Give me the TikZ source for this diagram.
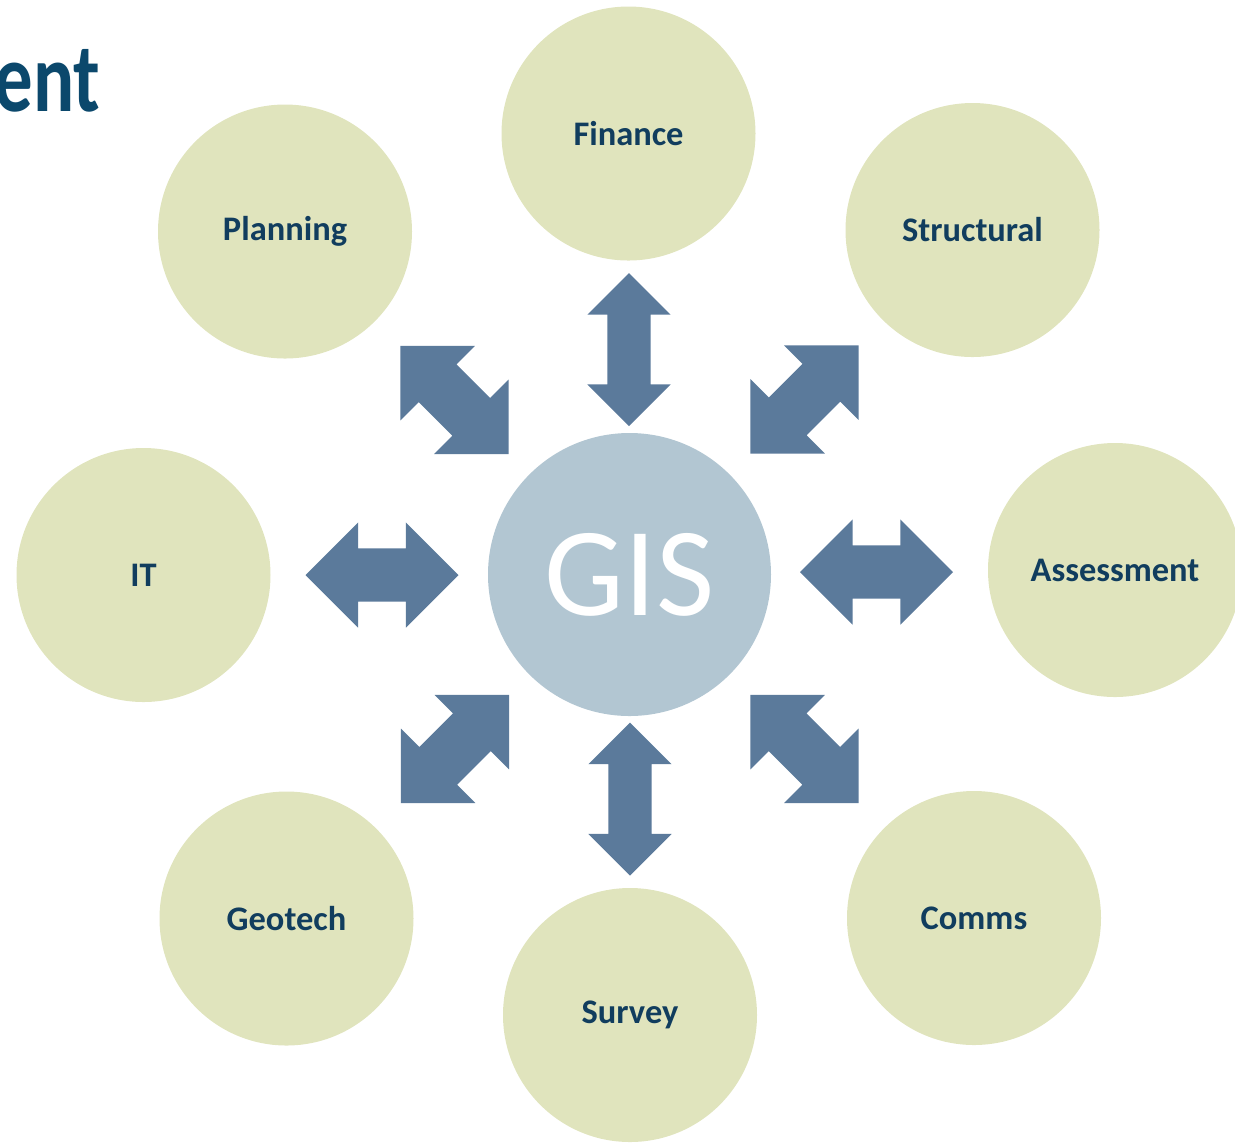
\documentclass[tikz,border=0pt]{standalone}
\usepackage{fontspec}
\setmainfont{Carlito}
\usepackage{tkz-euclide}
\usepackage{tikz}
\usetikzlibrary{shapes.arrows}

\definecolor{sage}{RGB}{224,228,189}
\definecolor{mist}{RGB}{178,198,210}
\definecolor{steel}{RGB}{91,122,155}
\definecolor{navy}{RGB}{17,61,94}
\definecolor{deepblue}{RGB}{11,72,108}

\begin{document}
\begin{tikzpicture}[
    dept/.style={circle, fill=sage, minimum size=2.54cm, inner sep=0pt,
        font=\bfseries\fontsize{9.8}{12}\selectfont, text=navy},
    twoway/.style={double arrow, fill=steel, inner sep=0pt, inner ysep=.26cm,
        double arrow head extend=.26cm, minimum height=1.53cm, minimum width=1.04cm},
    upway/.style={twoway, inner ysep=.21cm, double arrow head extend=.2cm,
        minimum width=.82cm, rotate=90}]
    \useasboundingbox (0,0) rectangle (12.35,-11.42);
    \tkzDefPoints{6.295/-5.745/O,6.285/-1.335/Fi,2.85/-2.315/Pl,9.725/-2.30/St,
        1.435/-5.75/It,11.15/-5.70/As,2.865/-9.185/Ge,6.30/-10.15/Su,9.74/-9.18/Co}
    \tkzDefPoints{6.29/-3.495/aN,8.045/-3.995/aNE,8.765/-5.72/aE,8.045/-7.49/aSE,
        6.30/-7.99/aS,4.55/-7.49/aSW,3.82/-5.75/aW,4.545/-4.00/aNW}
    % title (cut at the left)
    \node[anchor=base east, xscale=.78, font=\bfseries\fontsize{28}{34}\selectfont,
        text=deepblue] (title) at (1.10,-1.11) {ent};
    % hub
    \node[circle, fill=mist, minimum size=2.83cm, inner sep=0pt, text=white,
        font=\fontsize{36}{40}\selectfont] (gis) at (O) {GIS};
    % departments
    \node[dept] (fin) at (Fi) {Finance};
    \node[dept] (plan) at (Pl) {Planning};
    \node[dept] (struct) at (St) {Structural};
    \node[dept] (it) at (It) {IT};
    \node[dept] (assess) at (As) {Assessment};
    \node[dept] (geo) at (Ge) {Geotech};
    \node[dept] (surv) at (Su) {Survey};
    \node[dept] (comms) at (Co) {Comms};
    % links
    \node[upway] (lfin) at (aN) {};
    \node[upway] (lsurv) at (aS) {};
    \node[twoway] (lit) at (aW) {};
    \node[twoway] (lassess) at (aE) {};
    \node[twoway, rotate=-45] (lplan) at (aNW) {};
    \node[twoway, rotate=45] (lstruct) at (aNE) {};
    \node[twoway, rotate=45] (lgeo) at (aSW) {};
    \node[twoway, rotate=-45] (lcomms) at (aSE) {};
\end{tikzpicture}
\end{document}
